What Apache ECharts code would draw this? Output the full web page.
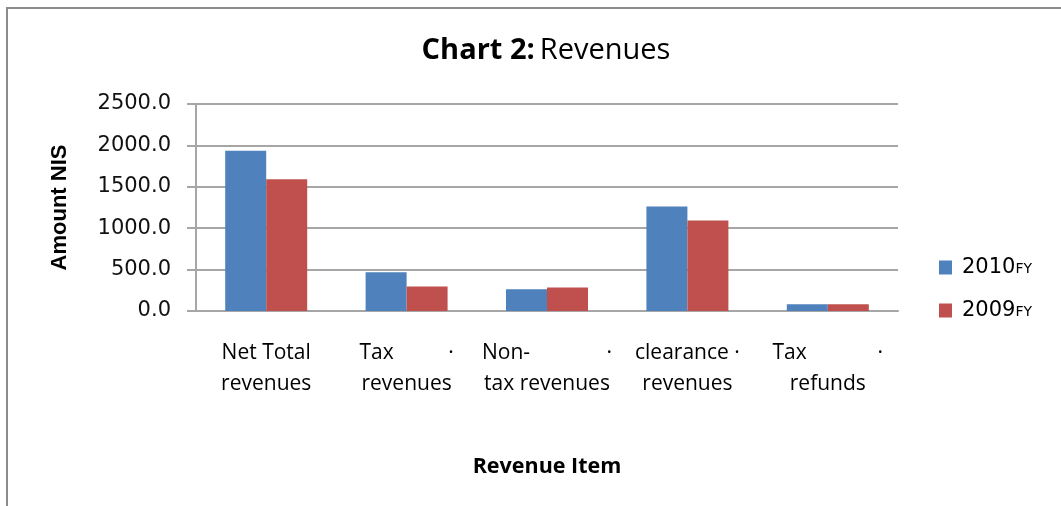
<!DOCTYPE html>
<html>
<head>
<meta charset="utf-8">
<script src="https://cdn.jsdelivr.net/npm/echarts@6/dist/echarts.min.js"></script>
<style>
  html, body { margin: 0; padding: 0; background: #fff; }
  #chart { width: 1061px; height: 506px; }
</style>
</head>
<body>
<div id="chart"></div>
<script>
// categories (line breaks and dots as in the original labels)
const categories = [
  "Net Total\nrevenues",
  "Tax          \u00b7\nrevenues",
  "Non-              \u00b7\ntax revenues",
  "clearance \u00b7\nrevenues",
  "Tax             \u00b7\nrefunds"
];
const seriesNames = ["2010FY", "2009FY"];
const values2010 = [1934, 469, 263, 1262, 81];
const values2009 = [1590, 295, 283, 1092, 81];
const yTicks = [0, 500, 1000, 1500, 2000, 2500];

const colors = ["#4F81BD", "#C0504D"];

document.addEventListener("DOMContentLoaded", function () {
  const chart = echarts.init(document.getElementById("chart"));

  const option = {
    backgroundColor: "#fff",
    animation: false,
    title: {
      text: "{b|Chart 2:} {n|Revenues}",
      left: 541,
      top: 31,
      textAlign: "center",
      textStyle: {
        rich: {
          b: { fontFamily: "Open Sans", fontWeight: "bold", fontSize: 29, color: "#000" },
          n: { fontFamily: "Open Sans", fontWeight: "normal", fontSize: 29, color: "#000" }
        }
      }
    },
    graphic: [
      {
        type: "rect",
        shape: { x: 7, y: 8, width: 1100, height: 600 },
        style: { fill: "none", stroke: "#8c8c8c", lineWidth: 2 }
      }
    ],
    legend: {
      orient: "vertical",
      left: 939,
      top: 257,
      padding: 0,
      itemWidth: 13,
      itemHeight: 14,
      itemGap: 22,
      icon: "rect",
      data: seriesNames,
      formatter: function (name) {
        return "{a|" + name.slice(0, 4) + "}{b|" + name.slice(4) + "}";
      },
      textStyle: {
        rich: {
          a: { fontFamily: "DejaVu Sans", fontSize: 21, color: "#000", lineHeight: 26, padding: [0, 0, 0, 5] },
          b: { fontFamily: "DejaVu Sans", fontSize: 14, color: "#000", lineHeight: 26, padding: [4, 0, 0, 0] }
        }
      }
    },
    grid: {
      left: 196,
      right: 163,
      top: 104,
      bottom: 195
    },
    xAxis: {
      type: "category",
      data: categories,
      name: "Revenue Item",
      nameLocation: "middle",
      nameGap: 145,
      nameTextStyle: {
        fontFamily: "Open Sans",
        fontWeight: "bold",
        fontSize: 21.5,
        color: "#000"
      },
      axisLine: { show: true, lineStyle: { color: "#a6a6a6", width: 2 } },
      axisTick: { show: false },
      axisLabel: {
        interval: 0,
        margin: 27,
        fontFamily: "Open Sans",
        fontSize: 21,
        lineHeight: 31,
        color: "#000"
      }
    },
    yAxis: {
      type: "value",
      min: yTicks[0],
      max: yTicks[yTicks.length - 1],
      interval: 500,
      name: "Amount NIS",
      nameLocation: "middle",
      nameGap: 125,
      nameTextStyle: {
        fontFamily: "Liberation Sans",
        fontWeight: "bold",
        fontSize: 22,
        color: "#000"
      },
      axisLine: { show: true, lineStyle: { color: "#a6a6a6", width: 2 } },
      axisTick: { show: true, inside: false, length: 9, lineStyle: { color: "#a6a6a6", width: 2 } },
      splitLine: { show: true, lineStyle: { color: "#a6a6a6", width: 2 } },
      axisLabel: {
        margin: 25,
        fontFamily: "DejaVu Sans",
        fontSize: 21,
        color: "#111",
        formatter: function (v) { return v.toFixed(1); }
      }
    },
    series: [
      {
        name: seriesNames[0],
        type: "bar",
        data: values2010,
        barGap: "0%",
        barCategoryGap: "41.6%",
        itemStyle: { color: colors[0] }
      },
      {
        name: seriesNames[1],
        type: "bar",
        data: values2009,
        barGap: "0%",
        barCategoryGap: "41.6%",
        itemStyle: { color: colors[1] }
      }
    ]
  };

  chart.setOption(option);
});
</script>
</body>
</html>
